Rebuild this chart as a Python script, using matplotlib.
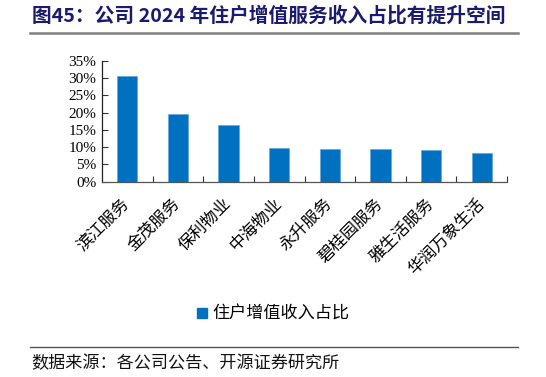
import matplotlib
matplotlib.use("Agg")
import matplotlib.pyplot as plt
from matplotlib.lines import Line2D
from matplotlib.patches import Patch
import numpy as np

categories = ["滨江服务", "金茂服务", "保利物业", "中海物业", "永升服务", "碧桂园服务", "雅生活服务", "华润万象生活"]
values = [30.5, 19.6, 16.5, 9.7, 9.5, 9.4, 9.2, 8.2]
series_name = "住户增值收入占比"
yticks = [0, 5, 10, 15, 20, 25, 30, 35]
title = "图45：公司 2024 年住户增值服务收入占比有提升空间"
source = "数据来源：各公司公告、开源证券研究所"

CJK = ["Noto Sans CJK SC", "DejaVu Sans"]
SERIF = ["Liberation Serif", "DejaVu Serif"]
BLUE = "#0070C0"

fig = plt.figure(figsize=(5.46, 3.77), dpi=100)
ax = fig.add_axes([0.1868, 0.518, 0.7418, 0.321])

x = np.arange(len(categories))
ax.bar(x, values, width=0.4, color=BLUE, edgecolor="#5AA0DC", linewidth=0.4, zorder=2)
ax.set_xlim(-0.5, len(categories) - 0.5)
ax.set_ylim(0, 35)
ax.set_yticks(yticks)
ax.set_yticklabels([f"{v}%" for v in yticks], fontfamily=SERIF, fontsize=11)
ax.tick_params(axis="y", direction="in", length=4, width=0.8, pad=4, color="#333333")

ax.set_xticks(x)
ax.set_xticklabels(categories, rotation=45, ha="right", va="center",
                   rotation_mode="anchor", fontfamily=CJK, fontsize=12)
ax.tick_params(axis="x", which="major", length=0, pad=14)
ax.set_xticks(np.arange(0.5, len(categories) - 0.5 + 1, 1), minor=True)
ax.tick_params(axis="x", which="minor", direction="in", length=4, width=0.8, color="#333333")

for s in ["top", "right"]:
    ax.spines[s].set_visible(False)
ax.spines["left"].set_color("#222222")
ax.spines["bottom"].set_color("#555555")
ax.spines["left"].set_linewidth(0.9)
ax.spines["bottom"].set_linewidth(0.9)

fig.legend(handles=[Patch(facecolor=BLUE, edgecolor=BLUE)], labels=[series_name],
           loc="center", bbox_to_anchor=(0.5, 0.167), frameon=False,
           prop={"family": CJK, "size": 12.3}, handlelength=0.6, handleheight=0.6,
           handletextpad=0.3)

fig.text(0.058, 0.958, title, fontfamily=CJK, fontsize=14.2, fontweight="bold",
         color="#1A1A6E", va="center", ha="left")
fig.add_artist(Line2D([0.055, 0.948], [0.912, 0.912], color="#7F7F7F", linewidth=1.8))
fig.add_artist(Line2D([0.055, 0.948], [0.080, 0.080], color="#555555", linewidth=1.0))
fig.text(0.058, 0.038, source, fontfamily=CJK, fontsize=12.3, color="#111111",
         va="center", ha="left")

fig.savefig("out.png", dpi=100)
